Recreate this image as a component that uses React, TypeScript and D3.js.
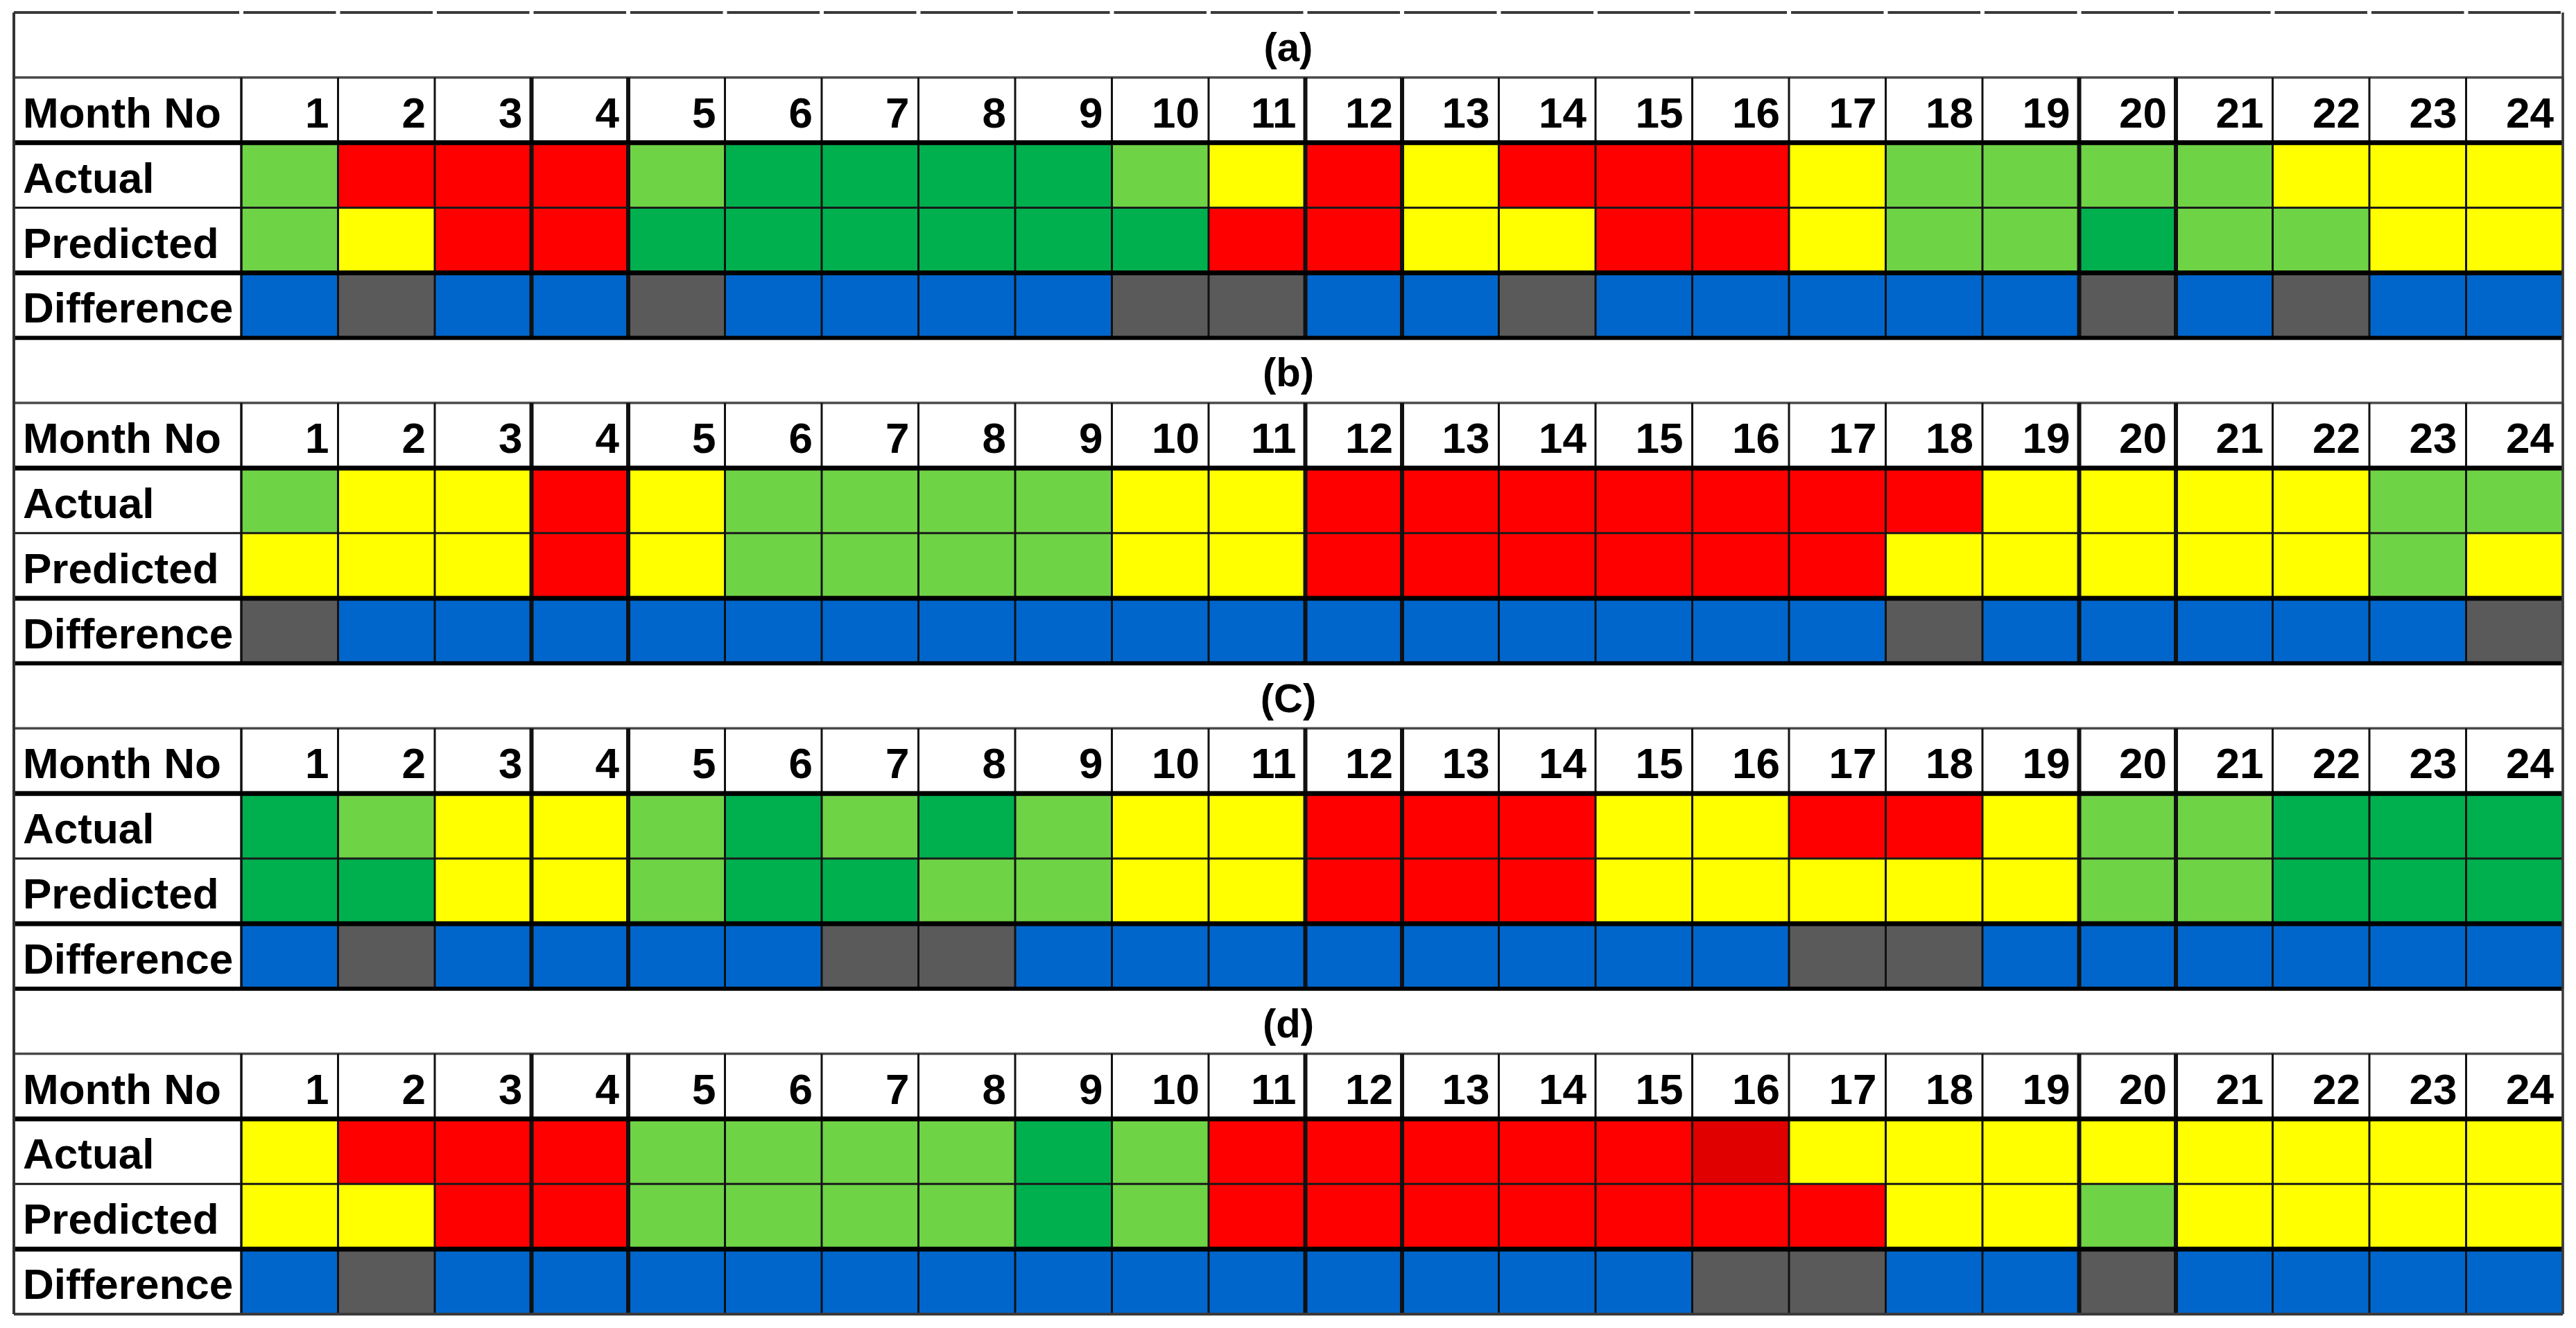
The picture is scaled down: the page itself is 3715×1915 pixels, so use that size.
import React from 'react';
import * as d3 from 'd3';

// ---------- data ----------
const PANEL_TITLES = ['(a)', '(b)', '(C)', '(d)'];
const ROW_LABELS = ['Month No', 'Actual', 'Predicted', 'Difference'];
const MONTHS = ['1','2','3','4','5','6','7','8','9','10','11','12','13','14','15','16','17','18','19','20','21','22','23','24'];

// LG light green, DG dark green, Y yellow, R red, DR dark red
const A_ACTUAL    = ['LG','R','R','R','LG','DG','DG','DG','DG','LG','Y','R','Y','R','R','R','Y','LG','LG','LG','LG','Y','Y','Y'];
const A_PREDICTED = ['LG','Y','R','R','DG','DG','DG','DG','DG','DG','R','R','Y','Y','R','R','Y','LG','LG','DG','LG','LG','Y','Y'];
const A_DIFF      = ['B','G','B','B','G','B','B','B','B','G','G','B','B','G','B','B','B','B','B','G','B','G','B','B'];

const B_ACTUAL    = ['LG','Y','Y','R','Y','LG','LG','LG','LG','Y','Y','R','R','R','R','R','R','R','Y','Y','Y','Y','LG','LG'];
const B_PREDICTED = ['Y','Y','Y','R','Y','LG','LG','LG','LG','Y','Y','R','R','R','R','R','R','Y','Y','Y','Y','Y','LG','Y'];
const B_DIFF      = ['G','B','B','B','B','B','B','B','B','B','B','B','B','B','B','B','B','G','B','B','B','B','B','G'];

const C_ACTUAL    = ['DG','LG','Y','Y','LG','DG','LG','DG','LG','Y','Y','R','R','R','Y','Y','R','R','Y','LG','LG','DG','DG','DG'];
const C_PREDICTED = ['DG','DG','Y','Y','LG','DG','DG','LG','LG','Y','Y','R','R','R','Y','Y','Y','Y','Y','LG','LG','DG','DG','DG'];
const C_DIFF      = ['B','G','B','B','B','B','G','G','B','B','B','B','B','B','B','B','G','G','B','B','B','B','B','B'];

const D_ACTUAL    = ['Y','R','R','R','LG','LG','LG','LG','DG','LG','R','R','R','R','R','DR','Y','Y','Y','Y','Y','Y','Y','Y'];
const D_PREDICTED = ['Y','Y','R','R','LG','LG','LG','LG','DG','LG','R','R','R','R','R','R','R','Y','Y','LG','Y','Y','Y','Y'];
const D_DIFF      = ['B','G','B','B','B','B','B','B','B','B','B','B','B','B','B','G','G','B','B','G','B','B','B','B'];

const PANELS = [
  { title: PANEL_TITLES[0], rows: [A_ACTUAL, A_PREDICTED, A_DIFF] },
  { title: PANEL_TITLES[1], rows: [B_ACTUAL, B_PREDICTED, B_DIFF] },
  { title: PANEL_TITLES[2], rows: [C_ACTUAL, C_PREDICTED, C_DIFF] },
  { title: PANEL_TITLES[3], rows: [D_ACTUAL, D_PREDICTED, D_DIFF] },
];

const COLORS: Record<string, string> = {
  LG: '#6fd346',
  DG: '#00b04f',
  Y: '#ffff00',
  R: '#ff0000',
  DR: '#e00000',
  B: '#0066cc',
  G: '#5a5a5a',
};

// ---------- layout ----------
const W = 3715;
const H = 1915;
const LEFT = 20;
const LABEL_RIGHT = 348;
const RIGHT = 3696;
const TOP = 18;
const BOTTOM = 1895;
const FONT = '"Liberation Sans", Arial, sans-serif';
const FS = 62;
const THICK_BOUNDS = [3, 4, 11, 12, 19, 20]; // column boundaries around months 4, 12, 20

const ROW_KEYS = ['title', 'month', 'actual', 'predicted', 'difference'];

export default function App() {
  const x = d3.scaleBand<string>().domain(MONTHS).range([LABEL_RIGHT, RIGHT]).padding(0);
  const yPanel = d3.scaleBand<string>().domain(PANEL_TITLES).range([TOP, BOTTOM]).padding(0);
  const yRow = d3.scaleBand<string>().domain(ROW_KEYS).range([0, yPanel.bandwidth()]).padding(0);
  const rh = yRow.bandwidth();
  const cw = x.bandwidth();
  const bx = (k: number) => LABEL_RIGHT + k * cw;

  return (
    <svg width={W} height={H} style={{ position: 'absolute', left: 0, top: 0, background: '#fff' }}>
      <rect x={0} y={0} width={W} height={H} fill="#fff" />
      {PANELS.map((p, pi) => {
        const y0 = yPanel(p.title)!;
        const yT = y0 + yRow('title')!;
        const yM = y0 + yRow('month')!;
        const yA = y0 + yRow('actual')!;
        const yP = y0 + yRow('predicted')!;
        const yD = y0 + yRow('difference')!;
        const yEnd = yD + rh;
        const dataRowsY = [yA, yP, yD];
        const isLast = pi === PANELS.length - 1;
        return (
          <g key={p.title}>
            {/* colored cells */}
            {p.rows.map((row, ri) =>
              row.map((code, ci) => (
                <rect
                  key={`c-${ri}-${ci}`}
                  x={x(MONTHS[ci])!}
                  y={dataRowsY[ri]}
                  width={cw}
                  height={rh}
                  fill={COLORS[code]}
                />
              ))
            )}
            {/* horizontal lines */}
            <line x1={LEFT} x2={RIGHT} y1={yM} y2={yM} stroke="#4a4a4a" strokeWidth={3.5} />
            <line x1={LEFT} x2={RIGHT} y1={yA} y2={yA} stroke="#000" strokeWidth={3} />
            <line x1={LEFT} x2={RIGHT} y1={yP} y2={yP} stroke="#1a1a1a" strokeWidth={3} />
            <line x1={LEFT} x2={RIGHT} y1={yD} y2={yD} stroke="#000" strokeWidth={3} />
            {/* vertical lines */}
            {d3.range(0, 25).map((k) => {
              const thick = THICK_BOUNDS.includes(k);
              return (
                <line
                  key={`v-${k}`}
                  x1={bx(k)}
                  x2={bx(k)}
                  y1={yM}
                  y2={yEnd}
                  stroke={k === 24 ? '#3a3a3a' : '#111'}
                  strokeWidth={thick ? 6 : k === 0 ? 3.5 : 3}
                />
              );
            })}
            {/* thick horizontal lines on top */}
            <line x1={LEFT} x2={RIGHT} y1={yA} y2={yA} stroke="#000" strokeWidth={7} />
            <line x1={LEFT} x2={RIGHT} y1={yD} y2={yD} stroke="#000" strokeWidth={7} />
            <line
              x1={LEFT}
              x2={RIGHT}
              y1={yEnd}
              y2={yEnd}
              stroke={isLast ? '#3a3a3a' : '#000'}
              strokeWidth={isLast ? 4 : 6}
            />
            {/* title */}
            <text
              x={(LEFT + RIGHT) / 2}
              y={yT + 70}
              textAnchor="middle"
              fontFamily={FONT}
              fontWeight="bold"
              fontSize={58}
              fill="#000"
            >
              {p.title}
            </text>
            {/* row labels */}
            {ROW_LABELS.map((lab, li) => (
              <text
                key={lab}
                x={LEFT + 13}
                y={[yM, yA, yP, yD][li] + 72}
                fontFamily={FONT}
                fontWeight="bold"
                fontSize={FS}
                fill="#000"
              >
                {lab}
              </text>
            ))}
            {/* month numbers */}
            {MONTHS.map((m) => (
              <text
                key={`m-${m}`}
                x={x(m)! + cw - 13}
                y={yM + 72}
                textAnchor="end"
                fontFamily={FONT}
                fontWeight="bold"
                fontSize={FS}
                fill="#000"
              >
                {m}
              </text>
            ))}
          </g>
        );
      })}
      {/* outer left and right borders */}
      <line x1={LEFT} x2={LEFT} y1={TOP} y2={BOTTOM} stroke="#333" strokeWidth={4} />
      <line x1={RIGHT} x2={RIGHT} y1={TOP} y2={BOTTOM} stroke="#3a3a3a" strokeWidth={3.5} />
      {/* top border drawn as per-cell segments */}
      <line x1={LEFT} x2={LABEL_RIGHT - 3} y1={TOP} y2={TOP} stroke="#3a3a3a" strokeWidth={4} />
      {MONTHS.map((m) => (
        <line
          key={`t-${m}`}
          x1={x(m)! + 3}
          x2={x(m)! + cw - 3}
          y1={TOP}
          y2={TOP}
          stroke="#3a3a3a"
          strokeWidth={4}
        />
      ))}
    </svg>
  );
}
